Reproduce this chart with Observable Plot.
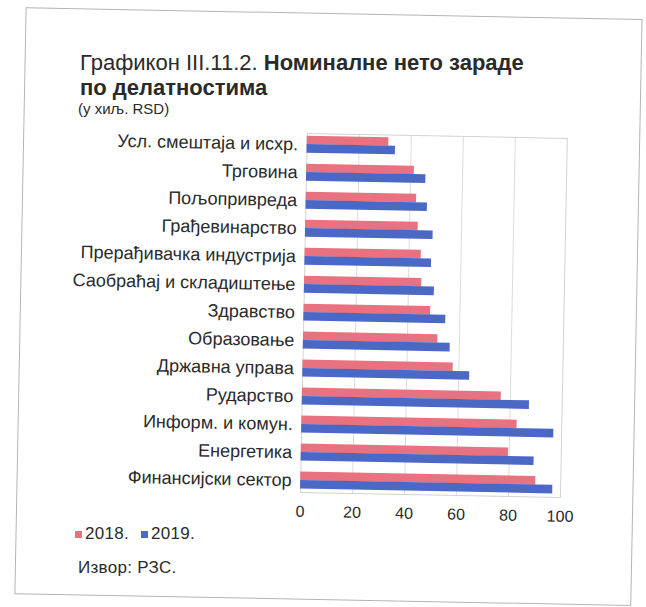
<!DOCTYPE html>
<html>
<head>
<meta charset="utf-8">
<script src="https://cdn.jsdelivr.net/npm/d3@7"></script>
<script src="https://cdn.jsdelivr.net/npm/@observablehq/plot@0.6"></script>
<style>
  html, body { margin: 0; padding: 0; background: #ffffff; overflow: hidden; }
  #page { position: relative; width: 646px; height: 607px;
    font-family: "Liberation Sans", Arial, Helvetica, sans-serif; color: #2a2a2a; }
  #rot { position: absolute; left: 0; top: 0; width: 646px; height: 607px;
    transform: rotate(1.1deg); transform-origin: 323px 303px; }
  #box { position: absolute; left: 20px; top: 13px; width: 617px; height: 587px;
         border: 1.5px solid #b4b4b4; box-sizing: border-box; }
  .tline { position: absolute; left: 80px; font-size: 22px; line-height: 25px; white-space: nowrap; }
  #t1 { top: 49.9px; }
  #t2 { top: 74.9px; font-weight: bold; }
  #subtitle { position: absolute; left: 78px; top: 99.9px; font-size: 15px; line-height: 17px; white-space: nowrap; }
  #chart { position: absolute; left: 0; top: 118px; }
  #legend { position: absolute; left: 75px; top: 524px; font-size: 17px; line-height: 20px; letter-spacing: 0.3px; display: flex; align-items: center; }
  #legend .sw { display: inline-block; width: 7px; height: 7px; margin-right: 3px; }
  #legend .item { display: flex; align-items: center; margin-right: 12px; }
  #source { position: absolute; left: 78px; top: 558px; font-size: 17px; line-height: 20px; letter-spacing: 0.3px; }
</style>
</head>
<body>
<div id="page">
  <div id="rot">
    <div id="box"></div>
    <div id="chart"></div>
  </div>
  <div class="tline" id="t1">Графикон III.11.2. <b>Номиналне нето зараде</b></div>
  <div class="tline" id="t2">по делатностима</div>
  <div id="subtitle">(у хиљ. RSD)</div>
  <div id="legend"></div>
  <div id="source">Извор: РЗС.</div>
</div>
<script>
const categories = [
  "Усл. смештаја и исхр.",
  "Трговина",
  "Пољопривреда",
  "Грађевинарство",
  "Прерађивачка индустрија",
  "Саобраћај и складиштење",
  "Здравство",
  "Образовање",
  "Државна управа",
  "Рударство",
  "Информ. и комун.",
  "Енергетика",
  "Финансијски сектор"
];
const values2018 = [31.4, 41.4, 42.5, 43.3, 44.7, 45.1, 48.7, 51.7, 57.8, 76.5, 82.8, 79.7, 90.4];
const values2019 = [34.0, 45.9, 46.7, 49.1, 48.7, 50.0, 54.6, 56.5, 64.2, 87.4, 97.0, 89.6, 97.0];
const seriesNames = ["2018.", "2019."];
const seriesColors = ["#e8727f", "#4a68c4"];
const xTicks = [0, 20, 40, 60, 80, 100];

const rows = categories.map((c, i) => ({cat: c, v2018: values2018[i], v2019: values2019[i]}));

const W = 646, H = 420, mT = 15.3, mB = 45.7, mL = 303.6, mR = 82.4;
const pIn = 0.4, pOut = 0.11;
const step = (H - mT - mB) / (categories.length - pIn + 2 * pOut);
const half = step * (1 - pIn) / 2;

const chart = Plot.plot({
  width: W, height: H,
  marginTop: mT, marginBottom: mB, marginLeft: mL, marginRight: mR,
  style: { fontFamily: '"Liberation Sans", Arial, Helvetica, sans-serif', color: "#2a2a2a", background: "transparent", overflow: "visible" },
  x: { domain: [0, 100] },
  y: { domain: categories, paddingInner: pIn, paddingOuter: pOut },
  marks: [
    Plot.gridX(xTicks.filter(d => d > 0 && d < 100), { stroke: "#dcdcdc", strokeOpacity: 1 }),
    Plot.frame({ stroke: "#d2d2d2" }),
    Plot.barX(rows, { y: "cat", x: "v2018", fill: seriesColors[0], insetBottom: half }),
    Plot.barX(rows, { y: "cat", x: "v2019", fill: seriesColors[1], insetTop: half }),
    Plot.axisY({ tickSize: 0, tickPadding: 9, fontSize: 18, label: null }),
    Plot.axisX({ ticks: xTicks, tickSize: 0, tickPadding: 13, fontSize: 16, label: null })
  ]
});
document.getElementById("chart").appendChild(chart);

const legend = document.getElementById("legend");
seriesNames.forEach((n, i) => {
  const item = document.createElement("span");
  item.className = "item";
  const sw = document.createElement("span");
  sw.className = "sw";
  sw.style.background = seriesColors[i];
  item.appendChild(sw);
  item.appendChild(document.createTextNode(n));
  legend.appendChild(item);
});
</script>
</body>
</html>
